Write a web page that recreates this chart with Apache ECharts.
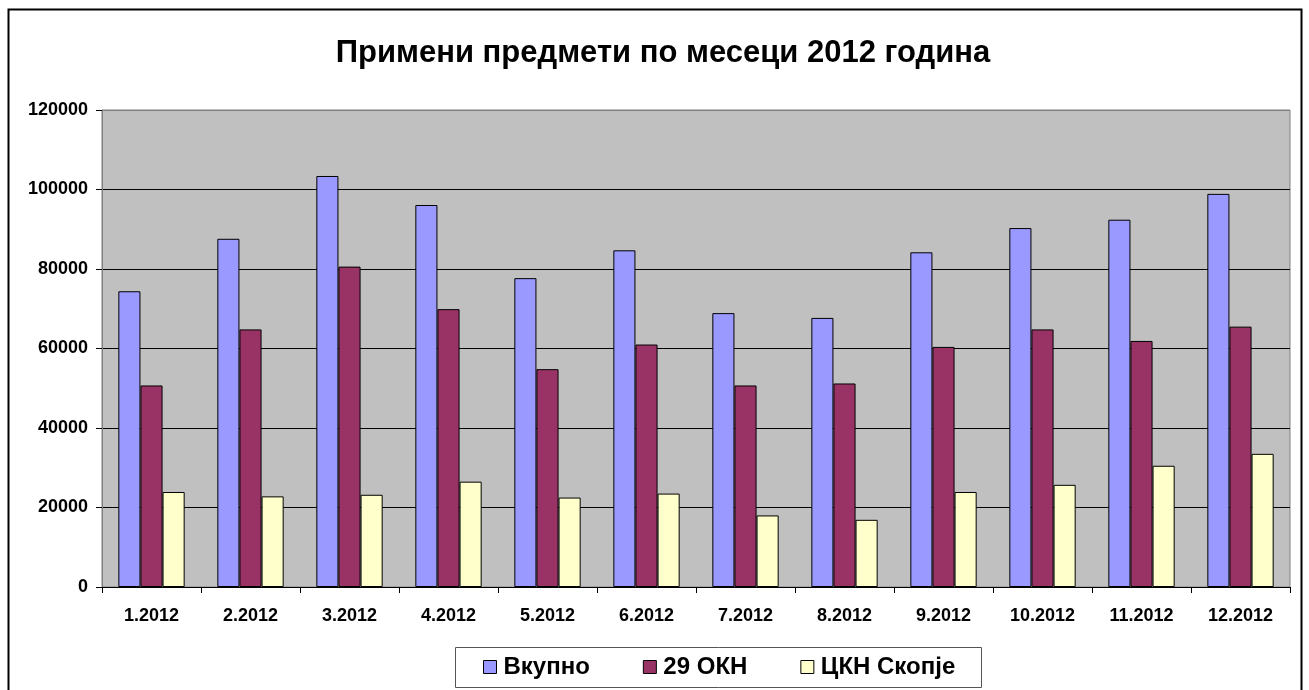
<!DOCTYPE html>
<html>
<head>
<meta charset="utf-8">
<script src="https://cdn.jsdelivr.net/npm/echarts@6/dist/echarts.min.js"></script>
<style>
  html, body { margin: 0; padding: 0; background: #fff; }
  #chart { width: 1309px; height: 690px; }
</style>
</head>
<body>
<div id="chart"></div>
<script>
const months = ['1.2012', '2.2012', '3.2012', '4.2012', '5.2012', '6.2012',
  '7.2012', '8.2012', '9.2012', '10.2012', '11.2012', '12.2012'];
const vkupno = [74400, 87600, 103400, 96100, 77700, 84700, 68900, 67700, 84200, 90300, 92400, 98900];
const okn29 = [50700, 64800, 80600, 69900, 54800, 61000, 50700, 51200, 60400, 64800, 61900, 65500];
const cknSkopje = [23900, 22800, 23200, 26500, 22500, 23500, 18000, 16900, 23900, 25700, 30500, 33500];
const seriesNames = ['Вкупно', '29 ОКН', 'ЦКН Скопје'];
const seriesColors = ['#9999FF', '#993366', '#FFFFCC'];

const font = 'Arial, "Liberation Sans", Helvetica, sans-serif';

const chart = echarts.init(document.getElementById('chart'));

// серии од низите погоре
const series = [vkupno, okn29, cknSkopje].map((data, i) => ({
  name: seriesNames[i],
  type: 'bar',
  data: data,
  barGap: '0%',
  barCategoryGap: '33%',
  itemStyle: { color: seriesColors[i], borderColor: '#000', borderWidth: 1 },
  emphasis: { disabled: true },
  animation: false
}));

chart.setOption({
  animation: false,
  textStyle: { fontFamily: font },
  title: {
    text: 'Примени предмети по месеци 2012 година',
    left: 658,
    textAlign: 'center',
    top: 33,
    textStyle: { fontSize: 31, fontWeight: 'bold', color: '#000', fontFamily: font }
  },
  graphic: [
    {
      type: 'rect',
      shape: { x: 8.5, y: 9.5, width: 1293, height: 700 },
      style: { fill: 'none', stroke: '#000', lineWidth: 2 },
      z: 100
    },
    {
      type: 'rect',
      shape: { x: 455.5, y: 647.5, width: 526, height: 40 },
      style: { fill: 'none', stroke: '#555', lineWidth: 1 },
      z: 100
    }
  ],
  legend: {
    data: seriesNames,
    icon: 'rect',
    left: 483,
    top: 655,
    padding: 0,
    itemGap: 53,
    itemWidth: 13,
    itemHeight: 13,
    textStyle: { fontSize: 24, fontWeight: 'bold', color: '#000', fontFamily: font, padding: [0, 0, 0, 2] },
    itemStyle: { borderColor: '#000', borderWidth: 1 }
  },
  grid: {
    left: 102,
    right: 19,
    top: 110,
    bottom: 103,
    show: true,
    backgroundColor: '#C0C0C0',
    borderColor: '#808080',
    borderWidth: 1
  },
  xAxis: {
    type: 'category',
    data: months,
    axisLine: { lineStyle: { color: '#000', width: 1 } },
    axisTick: { show: true, length: 6, lineStyle: { color: '#000' } },
    axisLabel: { fontSize: 18, fontWeight: 'bold', color: '#000', margin: 20, fontFamily: font }
  },
  yAxis: {
    type: 'value',
    min: 0,
    max: 120000,
    interval: 20000,
    axisLine: { show: true, lineStyle: { color: '#808080' } },
    axisTick: { show: true, length: 6, lineStyle: { color: '#000' } },
    axisLabel: {
      fontSize: 18, fontWeight: 'bold', color: '#000', margin: 14, fontFamily: font,
      formatter: v => String(v)
    },
    splitLine: {
      show: true,
      lineStyle: { color: ['#000', '#000', '#000', '#000', '#000', '#000', '#808080'], width: 1 }
    }
  },
  series: series
});
</script>
</body>
</html>
